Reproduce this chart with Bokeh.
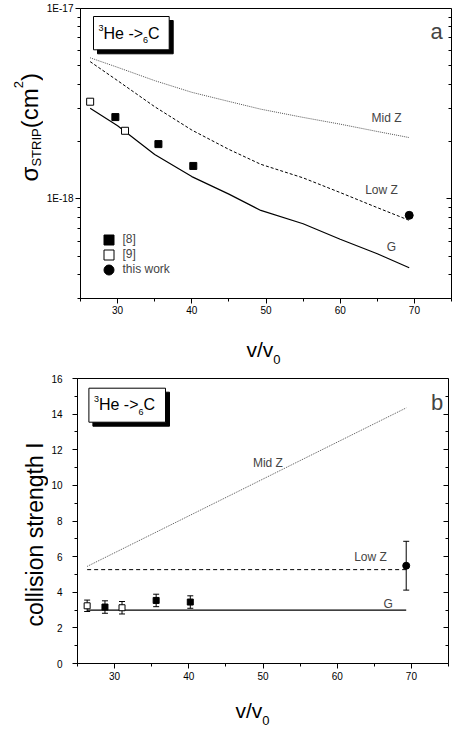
from bokeh.plotting import figure
from bokeh.models import (Range1d, FixedTicker, LinearAxis, LogAxis, Label, BoxAnnotation,
                          Legend, LegendItem, Whisker, ColumnDataSource, CustomJSTickFormatter, TeeHead)
from bokeh.layouts import column, row
from bokeh.embed import file_html
from bokeh.resources import INLINE

FONT = "Liberation Sans"
MID = 0.31    # distance (in em) from the alphabetic baseline up to the text middle
VSHIFT = 20   # correction along the reading direction for rotated labels (px)

# ---------------- data: panel a (stripping cross section) ----------------
v_theory = [26.3, 30, 35, 40, 45, 49.3, 55, 60, 65, 69.3]
sigma_G = [2.99e-18, 2.42e-18, 1.71e-18, 1.31e-18, 1.06e-18, 8.7e-19, 7.41e-19, 6.14e-19, 5.15e-19, 4.35e-19]
sigma_lowZ = [5.26e-18, 4.18e-18, 3.05e-18, 2.30e-18, 1.82e-18, 1.52e-18, 1.29e-18, 1.08e-18, 9.0e-19, 7.72e-19]
sigma_midZ = [5.51e-18, 4.91e-18, 4.18e-18, 3.63e-18, 3.25e-18, 2.96e-18, 2.68e-18, 2.47e-18, 2.26e-18, 2.10e-18]

ref8_v = [29.7, 35.5, 40.2]
ref8_sigma = [2.69e-18, 1.94e-18, 1.49e-18]
ref9_v = [26.3, 31.0]
ref9_sigma = [3.24e-18, 2.28e-18]
work_v = [69.3]
work_sigma = [8.2e-19]

# ---------------- data: panel b (collision strength) ----------------
v_line = [26.3, 69.3]
I_G = [3.0, 3.0]
I_lowZ = [5.27, 5.27]
I_midZ = [5.45, 14.35]

ref8_v_b = [28.7, 35.6, 40.2]
ref8_I = [3.17, 3.54, 3.45]
ref8_err = [0.35, 0.35, 0.35]
ref9_v_b = [26.3, 31.0]
ref9_I = [3.24, 3.13]
ref9_err = [0.32, 0.35]
work_I = [5.49]
work_err = [1.37]

x_major = [30, 40, 50, 60, 70]
x_minor = [25, 35, 45, 55, 65, 75]
a_major = [1e-18, 1e-17]
a_minor = [3e-19, 4e-19, 5e-19, 6e-19, 7e-19, 8e-19, 9e-19,
           2e-18, 3e-18, 4e-18, 5e-18, 6e-18, 7e-18, 8e-18, 9e-18]
b_major = [0, 2, 4, 6, 8, 10, 12, 14, 16]
b_minor = [1, 3, 5, 7, 9, 11, 13, 15]

# character advance widths (em) for laying out composed labels
W = {" ": .278, "-": .333, ">": .584, "H": .722, "e": .556, "C": .722, "(": .333, ")": .333,
     "c": .5, "m": .833, "v": .5, "/": .278, "S": .667, "T": .611, "R": .722, "I": .278,
     "P": .667, "σ": .62}


def run_labels(p, pieces, x0, y0, vertical=False):
    """Composed text (sub/superscripts) as Labels; (x0, y0) is the baseline start, screen units."""
    pos = y0 if vertical else x0
    for txt, size, shift in pieces:
        if vertical:
            p.add_layout(Label(x=x0 - shift - MID * size, y=pos - VSHIFT, x_units="screen",
                               y_units="screen", text=txt, angle=90, angle_units="deg",
                               text_font=FONT, text_font_size=f"{size}px", text_align="left",
                               text_baseline="middle", text_color="black"))
        else:
            p.add_layout(Label(x=pos, y=y0 + shift + MID * size, x_units="screen", y_units="screen",
                               text=txt, text_font=FONT, text_font_size=f"{size}px",
                               text_align="left", text_baseline="middle", text_color="black"))
        pos += sum(W.get(c, 0.556) for c in txt) * size


def helper(w, h):
    f = figure(width=w, height=h, x_range=Range1d(0, w), y_range=Range1d(0, h), min_border=0,
               x_axis_location=None, y_axis_location=None, toolbar_location=None,
               output_backend="svg")
    f.outline_line_color = None
    f.grid.visible = False
    f.background_fill_color = "white"
    f.border_fill_color = "white"
    return f


def lab(p, txt, x, y, size):
    p.add_layout(Label(x=x, y=y, x_units="screen", y_units="screen", text=txt, text_font=FONT,
                       text_font_size=f"{size}px", text_align="center", text_baseline="middle"))


def base_style(p, standoff_y, standoff_x):
    p.outline_line_color = "black"
    p.outline_line_width = 1
    p.grid.visible = False
    p.background_fill_color = "white"
    p.border_fill_color = "white"
    for ax in p.xaxis + p.yaxis:
        ax.axis_line_color = "black"
        ax.major_tick_line_color = "black"
        ax.minor_tick_line_color = "black"
        ax.major_tick_out = 5
        ax.major_tick_in = 0
        ax.minor_tick_out = 3
        ax.minor_tick_in = 0
        ax.major_label_text_font = FONT
        ax.major_label_text_font_size = "10px"
        ax.major_label_text_color = "black"
    p.xaxis.major_label_standoff = standoff_x
    p.yaxis.major_label_standoff = standoff_y


def right_axis(p, cls, major, minor):
    ax = cls(ticker=FixedTicker(ticks=major, minor_ticks=minor), fixed_location=75,
             formatter=CustomJSTickFormatter(code="return '';"),
             major_label_text_font_size="1px", major_label_standoff=0,
             major_tick_in=5, major_tick_out=0, minor_tick_in=3, minor_tick_out=0,
             axis_line_color="black", major_tick_line_color="black", minor_tick_line_color="black")
    p.add_layout(ax, "right")


def box(p, left, right, bottom, top):
    p.add_layout(BoxAnnotation(left=left + 4, right=right + 4, bottom=bottom - 4, top=top - 4,
                               left_units="screen", right_units="screen", bottom_units="screen",
                               top_units="screen", fill_color="black", fill_alpha=1,
                               line_color="black", line_alpha=1))
    p.add_layout(BoxAnnotation(left=left, right=right, bottom=bottom, top=top,
                               left_units="screen", right_units="screen", bottom_units="screen",
                               top_units="screen", fill_color="white", fill_alpha=1,
                               line_color="black", line_width=1, line_alpha=1))


def one_legend(p, label, r, x, y):
    p.add_layout(Legend(items=[LegendItem(label=label, renderers=[r])], location=(x, y),
                        glyph_width=25, glyph_height=25, padding=0, margin=0, label_standoff=2,
                        label_text_font=FONT, label_text_font_size="12px",
                        border_line_alpha=0, background_fill_alpha=0))


# ======================= panel a =======================
p1 = figure(width=411, height=320, x_range=Range1d(25, 75), y_range=Range1d(3e-19, 1e-17),
            y_axis_type="log", output_backend="svg", toolbar_location=None,
            min_border_left=34, min_border_right=3, min_border_top=8, min_border_bottom=22)
base_style(p1, 2, 2)
p1.xaxis.ticker = FixedTicker(ticks=x_major, minor_ticks=x_minor)
p1.yaxis.ticker = FixedTicker(ticks=a_major, minor_ticks=a_minor)
p1.yaxis.formatter = CustomJSTickFormatter(code="return '1E' + Math.round(Math.log10(tick));")
right_axis(p1, LogAxis, a_major, a_minor)

p1.line(v_theory, sigma_midZ, line_color="#555555", line_width=1, line_dash="1 1")
p1.line(v_theory, sigma_lowZ, line_color="black", line_width=1, line_dash="3 2")
p1.line(v_theory, sigma_G, line_color="black", line_width=1.2)

r8 = p1.scatter(ref8_v, ref8_sigma, marker="square", size=7, fill_color="black", line_color="black")
r9 = p1.scatter(ref9_v, ref9_sigma, marker="square", size=7, fill_color="white", line_color="black")
rw = p1.scatter(work_v, work_sigma, marker="circle", size=8, fill_color="black", line_color="black")

one_legend(p1, "[8]", r8, 15.5, 46.2)
one_legend(p1, "[9]", r9, 15.5, 31.2)
one_legend(p1, "this work", rw, 15.5, 16.2)

box(p1, 13, 88.7, 248.7, 282)
run_labels(p1, [("3", 9, 7.7), ("He ->", 16, 0), ("6", 9, -5), ("C", 16, 0)], 18, 260.3)
lab(p1, "a", 356, 267, 22)
lab(p1, "Mid Z", 306, 181, 12)
lab(p1, "Low Z", 301, 108.7, 12)
lab(p1, "G", 311, 51.3, 12)

ylab1 = helper(43, 320)
run_labels(ylab1, [("σ", 24, 0), ("STRIP", 13, -4), ("(cm", 24, 0), ("2", 13, 14), (")", 24, 0)],
           36, 137, vertical=True)
xlab1 = helper(454, 50)
run_labels(xlab1, [("v/v", 21, 0), ("0", 13, -7)], 246, 14)

# ======================= panel b =======================
p2 = figure(width=406, height=315, x_range=Range1d(25, 75), y_range=Range1d(0, 16),
            output_backend="svg", toolbar_location=None,
            min_border_left=27, min_border_right=6, min_border_top=8, min_border_bottom=22)
base_style(p2, 10, 3)
p2.xaxis.ticker = FixedTicker(ticks=x_major, minor_ticks=x_minor)
p2.yaxis.ticker = FixedTicker(ticks=b_major, minor_ticks=b_minor)
right_axis(p2, LinearAxis, b_major, b_minor)

p2.line(v_line, I_midZ, line_color="#555555", line_width=1, line_dash="1 1")
p2.line(v_line, I_lowZ, line_color="black", line_width=1, line_dash="4 3")
p2.line(v_line, I_G, line_color="black", line_width=1.2)


def errbars(p, xs, ys, es):
    src = ColumnDataSource(dict(x=xs, lower=[y - e for y, e in zip(ys, es)],
                                upper=[y + e for y, e in zip(ys, es)]))
    p.add_layout(Whisker(source=src, base="x", lower="lower", upper="upper", dimension="height",
                         line_color="black", line_width=1,
                         upper_head=TeeHead(size=6, line_color="black", line_width=1),
                         lower_head=TeeHead(size=6, line_color="black", line_width=1)))


errbars(p2, ref9_v_b, ref9_I, ref9_err)
errbars(p2, ref8_v_b, ref8_I, ref8_err)
errbars(p2, work_v, work_I, work_err)
p2.scatter(ref9_v_b, ref9_I, marker="square", size=6, fill_color="white", line_color="black")
p2.scatter(ref8_v_b, ref8_I, marker="square", size=6, fill_color="black", line_color="black")
p2.scatter(work_v, work_I, marker="circle", size=7, fill_color="black", line_color="black")

box(p2, 11.4, 88, 241.3, 275.3)
run_labels(p2, [("3", 9, 7.7), ("He ->", 16, 0), ("6", 9, -5), ("C", 16, 0)], 16.4, 253.6)
lab(p2, "b", 359.7, 261, 22)
lab(p2, "Mid Z", 190.4, 200.7, 12)
lab(p2, "Low Z", 293, 106.3, 12)
lab(p2, "G", 310.7, 59.7, 12)

ylab2 = helper(48, 315)
ylab2.add_layout(Label(x=42 - MID * 23, y=149 - VSHIFT, x_units="screen", y_units="screen",
                       text="collision strength I", angle=90, angle_units="deg", text_font=FONT,
                       text_font_size="23px", text_align="center", text_baseline="middle",
                       text_color="black"))
xlab2 = helper(454, 44)
run_labels(xlab2, [("v/v", 21, 0), ("0", 13, -7)], 235, 12.3)

page = column(row(ylab1, p1), xlab1, row(ylab2, p2), xlab2)
open("out.html", "w").write(file_html(page, INLINE))
